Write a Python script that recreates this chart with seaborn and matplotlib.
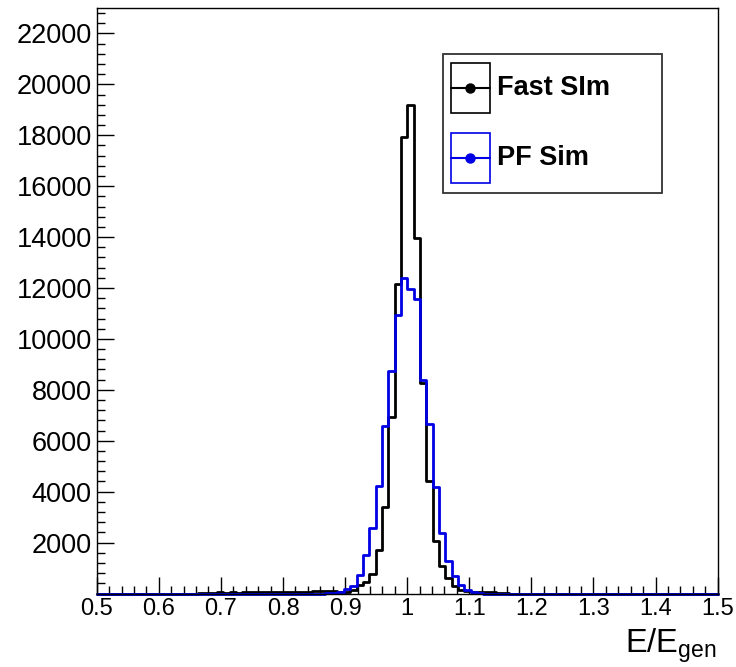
import numpy as np
import pandas as pd
import matplotlib
matplotlib.use("Agg")
import matplotlib.pyplot as plt
from matplotlib.patches import Rectangle
from matplotlib.lines import Line2D
from matplotlib.ticker import MultipleLocator, FixedLocator, FixedFormatter
import seaborn as sns

# ---------------- data ----------------
x_min, x_max, n_bins = 0.5, 1.5, 98
fast_sim = [0, 0, 0, 0, 0, 0, 0, 0, 0, 0,
            0, 0, 0, 0, 0, 0, 5, 10, 10, 40,
            30, 45, 35, 40, 50, 45, 40, 50, 55, 60,
            55, 60, 65, 70, 80, 95, 100, 90, 60, 67,
            157, 325, 459, 770, 1720, 3400, 6950, 12160, 17930, 19200,
            13970, 8270, 4404, 2051, 1071, 615, 314, 157, 90, 60,
            50, 45, 40, 30, 20, 0, 0, 0, 0, 0,
            0, 0, 0, 0, 0, 0, 0, 0, 0, 0,
            0, 0, 0, 0, 0, 0, 0, 0, 0, 0,
            0, 0, 0, 0, 0, 0, 0, 0]
pf_sim = [0, 0, 0, 0, 0, 0, 0, 0, 0, 0,
          0, 0, 0, 0, 0, 0, 0, 0, 0, 0,
          0, 0, 0, 0, 0, 0, 0, 0, 0, 0,
          0, 0, 0, 0, 0, 0, 5, 20, 50, 196,
          300, 745, 1529, 2576, 4240, 6590, 8760, 10940, 12380, 11950,
          11560, 8390, 6670, 4180, 2380, 1267, 680, 353, 130, 50,
          20, 0, 0, 0, 0, 0, 0, 0, 0, 0,
          0, 0, 0, 0, 0, 0, 0, 0, 0, 0,
          0, 0, 0, 0, 0, 0, 0, 0, 0, 0,
          0, 0, 0, 0, 0, 0, 0, 0]
x_ticks = [0.5, 0.6, 0.7, 0.8, 0.9, 1.0, 1.1, 1.2, 1.3, 1.4, 1.5]
x_tick_labels = ["0.5", "0.6", "0.7", "0.8", "0.9", "1", "1.1", "1.2", "1.3", "1.4", "1.5"]
y_ticks = [0, 2000, 4000, 6000, 8000, 10000, 12000, 14000, 16000, 18000, 20000, 22000]
y_tick_labels = ["", "2000", "4000", "6000", "8000", "10000", "12000", "14000",
                 "16000", "18000", "20000", "22000"]
legend_labels = ["Fast SIm", "PF Sim"]
y_max = 23000

edges = [float(e) for e in np.linspace(x_min, x_max, n_bins + 1)]
centers = [0.5 * (a + b) for a, b in zip(edges[:-1], edges[1:])]
df = pd.DataFrame({"x": centers, "fast": fast_sim, "pf": pf_sim})

# ---------------- style ----------------
sns.set_style("ticks")
plt.rcParams["font.family"] = ["Liberation Sans", "DejaVu Sans"]
plt.rcParams["mathtext.fontset"] = "custom"
plt.rcParams["mathtext.rm"] = "Liberation Sans"
plt.rcParams["text.color"] = "black"
plt.rcParams["xtick.color"] = "black"
plt.rcParams["ytick.color"] = "black"

W, H = 736, 667
fig = plt.figure(figsize=(W / 100, H / 100), dpi=100)
fig.patch.set_facecolor("white")
ax = fig.add_axes([96.7 / W, 1 - 593.5 / H, (717.7 - 96.7) / W, (593.5 - 8) / H])
ax.set_facecolor("white")

black = "#000000"
blue = "#0000e6"

sns.histplot(data=df, x="x", weights="fast", bins=edges, element="step",
             fill=False, color=black, linewidth=2.0, ax=ax)
sns.histplot(data=df, x="x", weights="pf", bins=edges, element="step",
             fill=False, color=blue, linewidth=2.0, ax=ax)
for ln in ax.lines:
    ln.set_clip_on(False)

ax.set_xlim(x_min, x_max)
ax.set_ylim(0, y_max)
ax.set_xlabel("")
ax.set_ylabel("")

ax.xaxis.set_major_locator(FixedLocator(x_ticks))
ax.xaxis.set_major_formatter(FixedFormatter(x_tick_labels))
ax.xaxis.set_minor_locator(MultipleLocator(0.02))
ax.yaxis.set_major_locator(FixedLocator(y_ticks))
ax.yaxis.set_major_formatter(FixedFormatter(y_tick_labels))
ax.yaxis.set_minor_locator(MultipleLocator(400))

ax.tick_params(which="both", direction="in", top=False, right=False, width=1,
               color="black", labelcolor="black")
ax.tick_params(which="major", length=12.5)
ax.tick_params(which="minor", length=6)
ax.tick_params(axis="y", which="major", labelsize=19.5, pad=3.5)
ax.tick_params(axis="x", which="major", labelsize=17, pad=3)
for sp in ax.spines.values():
    sp.set_visible(True)
    sp.set_color("black")
    sp.set_linewidth(1.0)

# axis title
fig.text(717 / W, 1 - 652 / H, r"E/E$_{\mathregular{gen}}$", ha="right", va="baseline",
         fontsize=23.5, color="black")

# ---------------- legend (drawn in figure pixels) ----------------
def fx(px):
    return px / W

def fy(py):
    return 1 - py / H

fig.patches.append(Rectangle((fx(443), fy(193.3)), (662 - 443) / W, (193.3 - 53.5) / H,
                             transform=fig.transFigure, fill=True, facecolor="white",
                             edgecolor="#333333", linewidth=1.3))
entries = [(legend_labels[0], black, 63.5, 113.3), (legend_labels[1], blue, 133.3, 182.7)]
for label, col, top, bot in entries:
    fig.patches.append(Rectangle((fx(450.6), fy(bot)), (489.5 - 450.6) / W, (bot - top) / H,
                                 transform=fig.transFigure, fill=False,
                                 edgecolor=col, linewidth=1.2))
    ymid = 0.5 * (top + bot)
    fig.lines.append(Line2D([fx(450.6), fx(489.5)], [fy(ymid), fy(ymid)],
                            transform=fig.transFigure, color=col, linewidth=1.5,
                            marker=None))
    fig.lines.append(Line2D([fx(470)], [fy(ymid)], transform=fig.transFigure,
                            color=col, marker="o", markersize=6.5, linestyle="none"))
    fig.text(fx(497), fy(ymid), label, ha="left", va="center", fontsize=19.5,
             fontweight="bold", color="black")

fig.savefig("out.png", dpi=100)
